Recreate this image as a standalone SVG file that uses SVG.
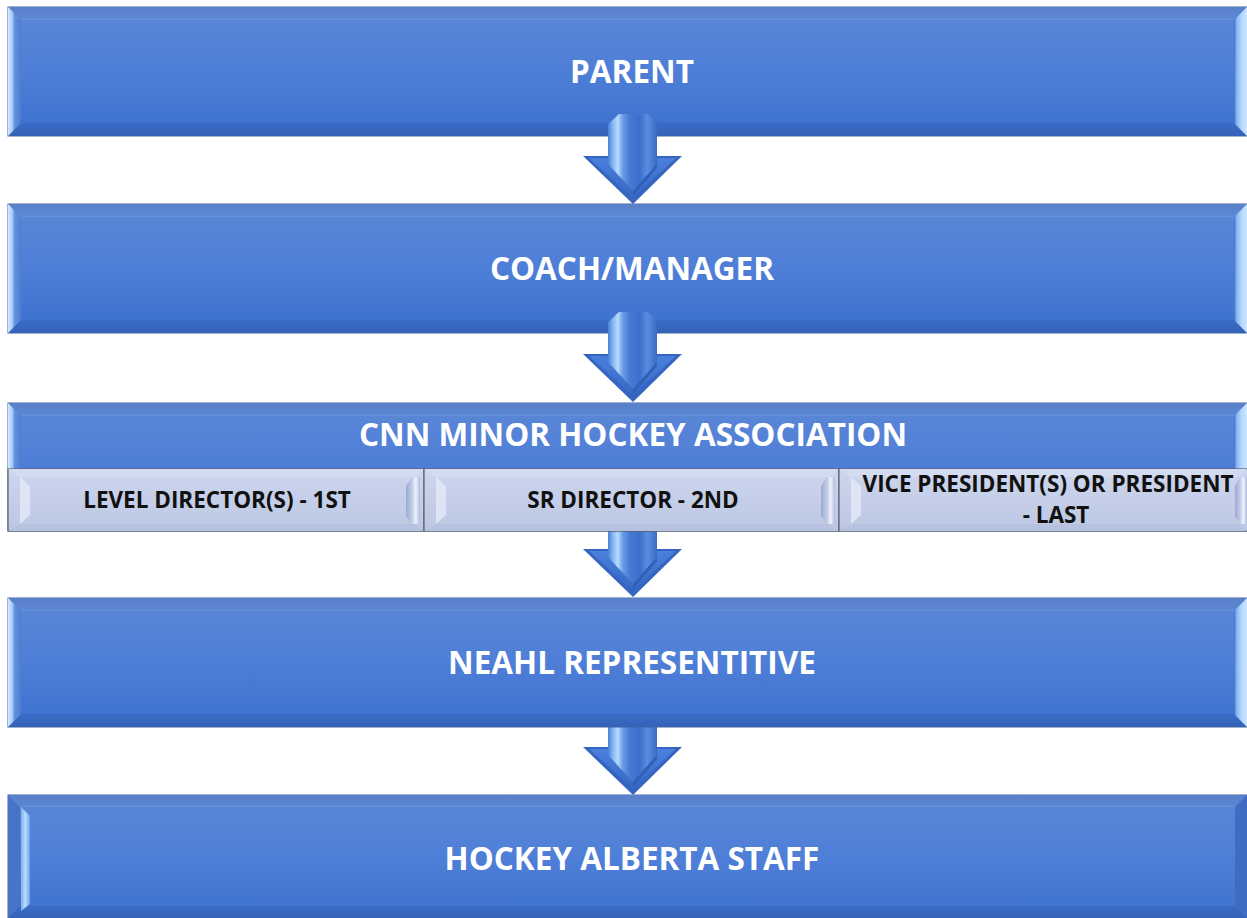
<svg xmlns="http://www.w3.org/2000/svg" xmlns:xlink="http://www.w3.org/1999/xlink" width="1247" height="918" viewBox="0 0 1247 918">
<style>
.face{fill:url(#faceG);stroke:#44649c;stroke-width:1}
.bt{fill:url(#topG)}
.bb{fill:url(#botG)}
.bl{fill:url(#leftG)}
.br{fill:url(#rightG)}
.sface{fill:url(#subG);stroke:#5e636e;stroke-width:1.2}
.sbl{fill:#e1e7f6;opacity:.9}
.sbr{fill:url(#subR)}
.sbt{fill:#d3dbf1}
.sbb{fill:#b6c2df}
.t{font-family:"Open Sans","Noto Sans","Liberation Sans",sans-serif;font-weight:700;font-size:31.5px;fill:#ffffff;text-anchor:middle}
.st{font-family:"Open Sans","Noto Sans","Liberation Sans",sans-serif;font-weight:700;font-size:22.5px;fill:#111111;text-anchor:middle}
</style>
<defs>
<linearGradient id="faceG" x1="0" y1="0" x2="0" y2="1">
<stop offset="0" stop-color="#5c87d6"/>
<stop offset="0.5" stop-color="#4e7ed7"/>
<stop offset="1" stop-color="#3c70cf"/>
</linearGradient>
<linearGradient id="topG" x1="0" y1="0" x2="0" y2="1">
<stop offset="0" stop-color="#5a80c9"/>
<stop offset="0.85" stop-color="#5c86d3"/>
<stop offset="1" stop-color="#6a94dc"/>
</linearGradient>
<linearGradient id="botG" x1="0" y1="0" x2="0" y2="1">
<stop offset="0" stop-color="#3b6bc8"/>
<stop offset="1" stop-color="#3462b6"/>
</linearGradient>
<linearGradient id="leftG" x1="0" y1="0" x2="1" y2="0">
<stop offset="0" stop-color="#d4eaff"/>
<stop offset="0.35" stop-color="#a2c8f5"/>
<stop offset="0.5" stop-color="#6592dc"/>
<stop offset="1" stop-color="#4d7dd2"/>
</linearGradient>
<linearGradient id="rightG" x1="0" y1="0" x2="1" y2="0">
<stop offset="0" stop-color="#3f6ec6"/>
<stop offset="0.2" stop-color="#86b6f0"/>
<stop offset="0.6" stop-color="#b6daff"/>
<stop offset="1" stop-color="#cde6ff"/>
</linearGradient>
<linearGradient id="b5L" x1="0" y1="0" x2="1" y2="0">
<stop offset="0" stop-color="#7fb0f0"/>
<stop offset="0.5" stop-color="#b8dcff"/>
<stop offset="1" stop-color="#6e9ee6"/>
</linearGradient>
<linearGradient id="subG" x1="0" y1="0" x2="0" y2="1">
<stop offset="0" stop-color="#cdd6ee"/>
<stop offset="1" stop-color="#bcc7e3"/>
</linearGradient>
<linearGradient id="subR" x1="0" y1="0" x2="1" y2="0">
<stop offset="0" stop-color="#9aabcf"/>
<stop offset="0.45" stop-color="#c3cee8"/>
<stop offset="0.7" stop-color="#eef2fb"/>
<stop offset="1" stop-color="#aebcdc"/>
</linearGradient>
<linearGradient id="shaftG" x1="0" y1="0" x2="1" y2="0">
<stop offset="0" stop-color="#4b7fd8"/>
<stop offset="0.1" stop-color="#86b6f2"/>
<stop offset="0.2" stop-color="#b8dbff"/>
<stop offset="0.3" stop-color="#6a9de6"/>
<stop offset="0.45" stop-color="#4579d3"/>
<stop offset="0.65" stop-color="#3c6fcb"/>
<stop offset="0.8" stop-color="#5b8ee0"/>
<stop offset="1" stop-color="#3a6bc4"/>
</linearGradient>
<linearGradient id="headG" x1="0" y1="0" x2="0" y2="1">
<stop offset="0" stop-color="#4a80dc"/>
<stop offset="1" stop-color="#3566c2"/>
</linearGradient>
<g id="arrow">
<polygon points="-50,-48 49,-48 0,0" fill="#3565c0"/>
<polygon points="-44,-46 43,-46 0,-6" fill="url(#headG)"/>
<polygon points="-25,-80 -14,-90 14,-90 24,-83 24,-40 0,-13 -25,-40" fill="url(#shaftG)"/>
<polygon points="0,-13 24,-40 24,-36 0,-8" fill="#3060b8"/>
</g>
</defs>
<rect x="0" y="0" width="1247" height="918" fill="#ffffff"/>

<g id="node-parent">
<rect class="face" x="8" y="7" width="1239" height="129"/>
<polygon class="bt" points="8,7 1247,7 1234,20 21,20"/>
<polygon class="bb" points="8,136 1247,136 1234,123 21,123"/>
<polygon class="bl" points="8,7 21,20 21,123 8,136"/>
<polygon class="br" points="1247,7 1234,20 1234,123 1247,136"/>
<text class="t" x="632" y="83">PARENT</text>
</g>

<g id="node-coach">
<rect class="face" x="8" y="204" width="1239" height="129"/>
<polygon class="bt" points="8,204 1247,204 1234,217 21,217"/>
<polygon class="bb" points="8,333 1247,333 1234,320 21,320"/>
<polygon class="bl" points="8,204 21,217 21,320 8,333"/>
<polygon class="br" points="1247,204 1234,217 1234,320 1247,333"/>
<text class="t" x="632" y="280">COACH/MANAGER</text>
</g>

<g id="connectors">
<use xlink:href="#arrow" href="#arrow" transform="translate(633,204)"/>
<use xlink:href="#arrow" href="#arrow" transform="translate(633,402)"/>
<use xlink:href="#arrow" href="#arrow" transform="translate(633,597)"/>
<use xlink:href="#arrow" href="#arrow" transform="translate(633,795)"/>
</g>

<g id="node-cnn">
<rect class="face" x="8" y="403" width="1239" height="128"/>
<polygon class="bt" points="8,403 1247,403 1234,416 21,416"/>
<polygon class="bl" points="8,403 21,416 21,531 8,531"/>
<polygon class="br" points="1247,403 1234,416 1234,531 1247,531"/>
<text class="t" x="633" y="446">CNN MINOR HOCKEY ASSOCIATION</text>
</g>

<g id="node-level">
<rect class="sface" x="8" y="469" width="416" height="62"/>
<polygon class="sbt" points="8,469 424,469 414,477 20,477"/>
<polygon class="sbb" points="8,531 424,531 414,524 20,524"/>
<polygon class="sbl" points="20,477 30,486 30,515 20,524"/>
<polygon class="sbr" points="406,486 412,477 420,477 420,524 412,524 406,516"/>
<text class="st" x="217" y="508">LEVEL DIRECTOR(S) - 1ST</text>
</g>

<g id="node-sr">
<rect class="sface" x="424" y="469" width="415" height="62"/>
<polygon class="sbt" points="424,469 839,469 829,477 436,477"/>
<polygon class="sbb" points="424,531 839,531 829,524 436,524"/>
<polygon class="sbl" points="436,477 446,486 446,515 436,524"/>
<polygon class="sbr" points="821,486 827,477 835,477 835,524 827,524 821,516"/>
<text class="st" x="633" y="508">SR DIRECTOR - 2ND</text>
</g>

<g id="node-vp">
<rect class="sface" x="839" y="469" width="414" height="62"/>
<polygon class="sbt" points="839,469 1247,469 1237,477 851,477"/>
<polygon class="sbb" points="839,531 1247,531 1237,524 851,524"/>
<polygon class="sbl" points="851,477 861,486 861,515 851,524"/>
<polygon class="sbr" points="1235,486 1240,477 1247,477 1247,524 1240,524 1235,516"/>
<text class="st" x="1048" y="492">VICE PRESIDENT(S) OR PRESIDENT</text>
<text class="st" x="1056" y="523">- LAST</text>
</g>

<g id="node-neahl">
<rect class="face" x="8" y="598" width="1239" height="129"/>
<polygon class="bt" points="8,598 1247,598 1234,611 21,611"/>
<polygon class="bb" points="8,727 1247,727 1234,714 21,714"/>
<polygon class="bl" points="8,598 21,611 21,714 8,727"/>
<polygon class="br" points="1247,598 1234,611 1234,714 1247,727"/>
<text class="t" x="632" y="674">NEAHL REPRESENTITIVE</text>
</g>

<g id="node-hockey-alberta">
<rect class="face" x="8" y="795" width="1239" height="130"/>
<polygon class="bt" points="8,795 1247,795 1235,807 20,807"/>
<polygon class="bb" points="8,918 1247,918 1235,906 20,906"/>
<polygon points="8,795 20,807 20,906 8,918" fill="#4874c8"/>
<polygon points="1247,795 1235,807 1235,906 1247,918" fill="#3f6cc2"/>
<polygon points="21,807 30,816 30,904 21,911" fill="url(#b5L)"/>
<text class="t" x="632" y="870">HOCKEY ALBERTA STAFF</text>
</g>
</svg>
